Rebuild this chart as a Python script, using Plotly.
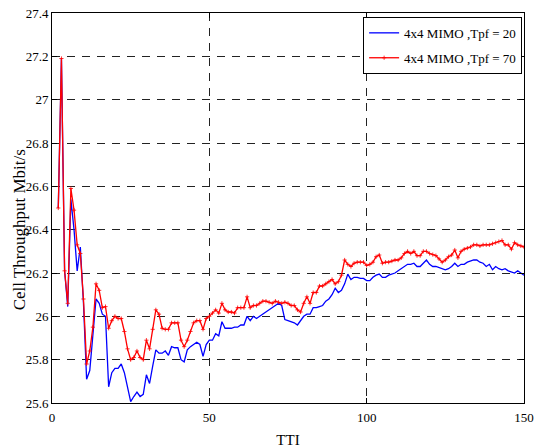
import plotly.graph_objects as go

tti = list(range(2, 151))

tpf20 = [26.50, 27.19, 26.21, 26.045, 26.54, 26.40, 26.21, 26.32, 26.06,
         25.71, 25.75, 25.92, 26.08, 26.06, 26.01, 26.00, 25.675, 25.74, 25.76,
         25.76, 25.78, 25.74, 25.67, 25.606, 25.63, 25.65, 25.63, 25.64, 25.73,
         25.69, 25.77, 25.845, 25.83, 25.83, 25.84, 25.82, 25.86, 25.855, 25.855,
         25.80, 25.79, 25.845, 25.86, 25.87, 25.88, 25.87, 25.815, 25.87, 25.89,
         25.89, 25.92, 25.91, 25.975, 25.945, 25.945, 25.945, 25.95, 25.95, 25.96,
         25.96, 26.00, 25.98, 26.00, 25.99, 26.00, 26.01, 26.02, 26.03, 26.04,
         26.05, 26.06, 26.05, 25.985, 25.98, 25.975, 25.97, 25.96, 25.98, 26.00,
         26.01, 26.01, 26.04, 26.04, 26.045, 26.05, 26.07, 26.08, 26.10, 26.13,
         26.11, 26.12, 26.15, 26.195, 26.17, 26.18, 26.18, 26.175, 26.175, 26.165,
         26.165, 26.18, 26.19, 26.195, 26.18, 26.18, 26.19, 26.195, 26.20, 26.21,
         26.22, 26.23, 26.24, 26.24, 26.245, 26.23, 26.23, 26.245, 26.26, 26.24,
         26.23, 26.23, 26.225, 26.22, 26.215, 26.22, 26.23, 26.245, 26.23, 26.24,
         26.24, 26.25, 26.255, 26.26, 26.26, 26.25, 26.245, 26.23, 26.24, 26.215,
         26.23, 26.22, 26.215, 26.22, 26.21, 26.205, 26.20, 26.21, 26.20, 26.19]

tpf70 = [26.50, 27.19, 26.21, 26.06, 26.59, 26.49, 26.33, 26.29, 26.08,
         25.78, 25.84, 25.95, 26.15, 26.12, 26.04, 26.045, 25.945, 25.98, 26.00,
         25.99, 25.99, 25.93, 25.85, 25.80, 25.81, 25.84, 25.81, 25.80, 25.89,
         25.85, 25.94, 26.03, 26.01, 25.945, 25.94, 25.94, 25.97, 25.97, 25.97,
         25.89, 25.86, 25.89, 25.93, 25.97, 25.98, 25.98, 25.94, 25.99, 26.00,
         26.015, 26.03, 26.015, 26.06, 26.03, 26.02, 26.02, 26.015, 26.04, 26.04,
         26.04, 26.09, 26.04, 26.05, 26.05, 26.06, 26.07, 26.07, 26.065, 26.06,
         26.07, 26.065, 26.06, 26.065, 26.06, 26.05, 26.05, 26.03, 26.02, 26.06,
         26.09, 26.06, 26.11, 26.11, 26.14, 26.14, 26.15, 26.16, 26.17, 26.15,
         26.16, 26.19, 26.26, 26.24, 26.23, 26.245, 26.25, 26.25, 26.25, 26.235,
         26.24, 26.25, 26.275, 26.283, 26.245, 26.25, 26.25, 26.255, 26.26, 26.26,
         26.27, 26.29, 26.30, 26.29, 26.30, 26.28, 26.28, 26.30, 26.30, 26.29,
         26.285, 26.28, 26.265, 26.25, 26.26, 26.275, 26.283, 26.306, 26.27, 26.30,
         26.31, 26.315, 26.32, 26.33, 26.33, 26.325, 26.33, 26.33, 26.33, 26.335,
         26.34, 26.345, 26.35, 26.33, 26.33, 26.31, 26.34, 26.33, 26.325, 26.32]

x_ticks = [0, 50, 100, 150]
y_ticks = [25.6, 25.8, 26.0, 26.2, 26.4, 26.6, 26.8, 27.0, 27.2, 27.4]
y_labels = ["25.6", "25.8", "26", "26.2", "26.4", "26.6", "26.8", "27", "27.2", "27.4"]

FONT = "Liberation Serif"

fig = go.Figure()
fig.add_trace(go.Scatter(x=tti, y=tpf20, mode="lines",
                         name="4x4 MIMO ,Tpf = 20", legendgroup="a",
                         line=dict(color="#0000ff", width=1.3)))
fig.add_trace(go.Scatter(x=tti, y=tpf70, mode="lines+markers",
                         name="4x4 MIMO ,Tpf = 70", legendgroup="b",
                         line=dict(color="#ff0000", width=1.3),
                         marker=dict(symbol="cross-thin", size=3,
                                     line=dict(color="#ff0000", width=0.8))))

axis_common = dict(showline=True, linecolor="black", linewidth=1, mirror="ticks",
                   ticks="inside", ticklen=5, tickcolor="black",
                   showgrid=True, gridcolor="#222222", gridwidth=1,
                   griddash="8px,7px", zeroline=False, automargin=False,
                   ticklabeloverflow="allow",
                   tickfont=dict(family=FONT, size=13, color="black"))

fig.update_xaxes(range=[0, 150], tickvals=x_ticks,
                 ticktext=[str(v) for v in x_ticks], ticklabelstandoff=2,
                 title=dict(text="TTI", font=dict(family=FONT, size=15, color="black"),
                            standoff=10),
                 **axis_common)
fig.update_yaxes(range=[25.6, 27.4], tickvals=y_ticks, ticktext=y_labels,
                 **axis_common)

fig.update_layout(
    width=536, height=448,
    margin=dict(l=52, r=12, t=13, b=45),
    paper_bgcolor="white", plot_bgcolor="white",
    font=dict(family=FONT, color="black"),
    legend=dict(x=0.996, y=0.99, xanchor="right", yanchor="top",
                bgcolor="white", bordercolor="black", borderwidth=1,
                font=dict(family=FONT, size=13, color="black"),
                itemwidth=30, traceorder="grouped", tracegroupgap=5),
    showlegend=True,
    annotations=[dict(text="Cell Throughput Mbit/s", textangle=-90,
                      xref="paper", yref="paper", x=-0.068, y=0.445,
                      xanchor="center", yanchor="middle", showarrow=False,
                      font=dict(family=FONT, size=17, color="black"))],
)

# remove the default page margin so the figure fills the window exactly
fig.write_html("out.html",
               config={"displayModeBar": False},
               post_script="document.body.style.margin='0';"
                           "document.body.style.overflow='hidden';")
